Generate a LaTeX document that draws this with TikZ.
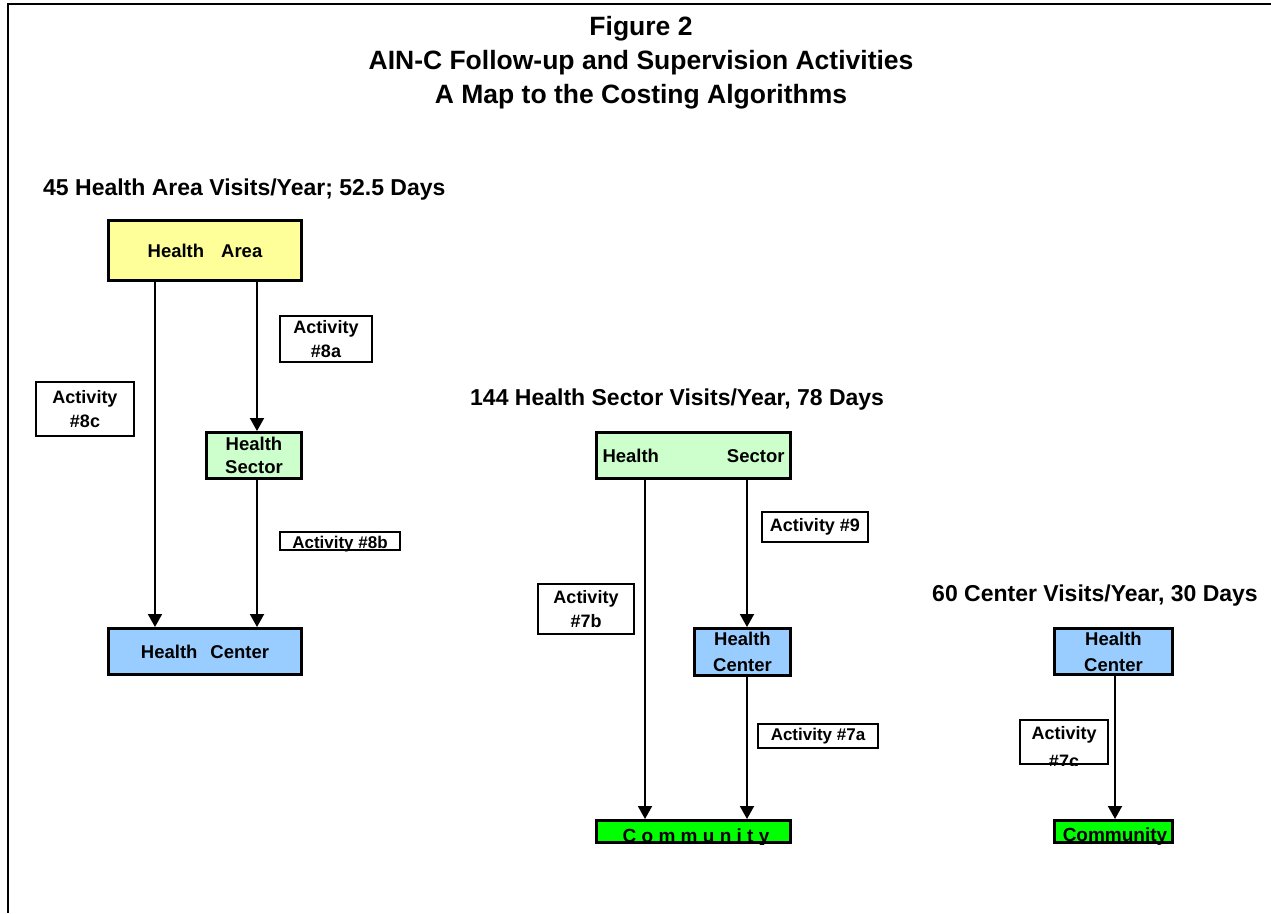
\documentclass[tikz,border=0pt]{standalone}
\usepackage{fontspec}
\setmainfont{Liberation Sans}
\usetikzlibrary{arrows.meta}
\definecolor{areaY}{HTML}{FFFF99}
\definecolor{sectG}{HTML}{CCFFCC}
\definecolor{centB}{HTML}{99CCFF}
\definecolor{commG}{HTML}{00FF00}
\begin{document}
\begin{tikzpicture}[x=1pt,y=-1pt,
  mainbox/.style={draw=black, line width=3pt, inner sep=0pt, align=center,
    font=\fontsize{18.5}{23}\selectfont\bfseries},
  actbox/.style={draw=black, line width=2pt, fill=white, inner sep=0pt, align=center,
    font=\fontsize{18}{24.5}\selectfont\bfseries},
  arr/.style={line width=2pt, -{Triangle[width=14pt,length=13pt]}},
  titletext/.style={anchor=base, inner sep=0pt, font=\fontsize{26.5}{34}\selectfont\bfseries},
  subtext/.style={anchor=base west, inner sep=0pt, font=\fontsize{23}{28}\selectfont\bfseries},
  cliptext/.style={anchor=base, inner sep=0pt}
]
\useasboundingbox (0,0) rectangle (1271,913);
% frame
\draw[line width=2pt, line join=miter] (1271,4.3) -- (7.7,4.3) -- (7.7,913);

% titles
\node[titletext] (T1) at (641,35) {Figure 2};
\node[titletext] (T2) at (641,69) {AIN-C Follow-up and Supervision Activities};
\node[titletext] (T3) at (641,103) {A Map to the Costing Algorithms};

\node[subtext] (S1) at (43,195) {45 Health Area Visits/Year; 52.5 Days};
\node[subtext] (S2) at (470,405) {144 Health Sector Visits/Year, 78 Days};
\node[subtext] (S3) at (932,601) {60 Center Visits/Year, 30 Days};

% x positions of the vertical connectors
\coordinate (xa) at (155,0);
\coordinate (xb) at (257,0);
\coordinate (xc) at (645,0);
\coordinate (xd) at (747,0);
\coordinate (xe) at (1115,0);

% ---------- left group ----------
\node[mainbox, fill=areaY, minimum width=193pt, minimum height=60pt] (HA) at (205,250.5)
  {Health\hspace{17pt}Area};
\node[mainbox, fill=sectG, minimum width=95pt, minimum height=46pt] (HS1) at (254,455.5)
  {Health\\Sector};
\node[mainbox, fill=centB, minimum width=193pt, minimum height=46pt] (HC1) at (205,651.5)
  {Health\hspace{13pt}Center};

\draw[arr] (HA.south -| xa) -- (HC1.north -| xa);
\draw[arr] (HA.south -| xb) -- (HS1.north -| xb);
\draw[arr] (HS1.south -| xb) -- (HC1.north -| xb);

\node[actbox, minimum width=92pt, minimum height=46pt] (A8a) at (326,339) {Activity\\\#8a};
\node[actbox, minimum width=98pt, minimum height=54pt] (A8c) at (85,409) {Activity\\\#8c};
\node[actbox, minimum width=120pt, minimum height=18pt] (A8b) at (340,541) {};
\begin{scope}
  \clip (A8b.south west) rectangle (A8b.north east);
  \node[cliptext, font=\fontsize{17}{20}\selectfont\bfseries] (A8bt) at (340,548.8) {Activity \#8b};
\end{scope}

% ---------- middle group ----------
\node[mainbox, fill=sectG, minimum width=194pt, minimum height=46pt] (HS2) at (693.5,455.5)
  {\makebox[182pt]{Health\hfill Sector}};
\node[mainbox, fill=centB, minimum width=96pt, minimum height=47pt,
  font=\fontsize{18.5}{26}\selectfont\bfseries] (HC2) at (742.5,652) {Health\\Center};
\node[mainbox, fill=commG, minimum width=194pt, minimum height=22pt] (COM2) at (693.5,831.5) {};
\begin{scope}
  \clip (COM2.south west) rectangle (COM2.north east);
  \node[cliptext, font=\fontsize{19}{22}\selectfont\bfseries] (COM2t) at (696,842) {C o m m u n i t y};
\end{scope}

\draw[arr] (HS2.south -| xc) -- (COM2.north -| xc);
\draw[arr] (HS2.south -| xd) -- (HC2.north -| xd);
\draw[arr] (HC2.south -| xd) -- (COM2.north -| xd);

\node[actbox, minimum width=106pt, minimum height=30pt] (A9) at (815,527) {Activity \#9};
\node[actbox, minimum width=96pt, minimum height=50pt, font=\fontsize{18}{23.5}\selectfont\bfseries] (A7b) at (586,609) {Activity\\\#7b};
\node[actbox, minimum width=120pt, minimum height=24pt, font=\fontsize{17}{20}\selectfont\bfseries] (A7a) at (818,736) {Activity \#7a};

% ---------- right group ----------
\node[mainbox, fill=centB, minimum width=118pt, minimum height=46pt,
  font=\fontsize{18.5}{26}\selectfont\bfseries] (HC3) at (1113.5,651.5) {Health\\Center};
\node[mainbox, fill=commG, minimum width=118pt, minimum height=22pt] (COM3) at (1113.5,831.5) {};
\begin{scope}
  \clip (COM3.south west) rectangle (COM3.north east);
  \node[cliptext, font=\fontsize{19}{22}\selectfont\bfseries] (COM3t) at (1115,841) {Community};
\end{scope}

\draw[arr] (HC3.south -| xe) -- (COM3.north -| xe);

\node[actbox, minimum width=88pt, minimum height=44pt] (A7c) at (1064,742) {};
\begin{scope}
  \clip (A7c.south west) rectangle (A7c.north east);
  \node[cliptext, font=\fontsize{18}{22}\selectfont\bfseries] (A7ct1) at (1064,739.4) {Activity};
  \node[cliptext, font=\fontsize{18}{22}\selectfont\bfseries] (A7ct2) at (1064,767) {\#7c};
\end{scope}
\end{tikzpicture}
\end{document}
